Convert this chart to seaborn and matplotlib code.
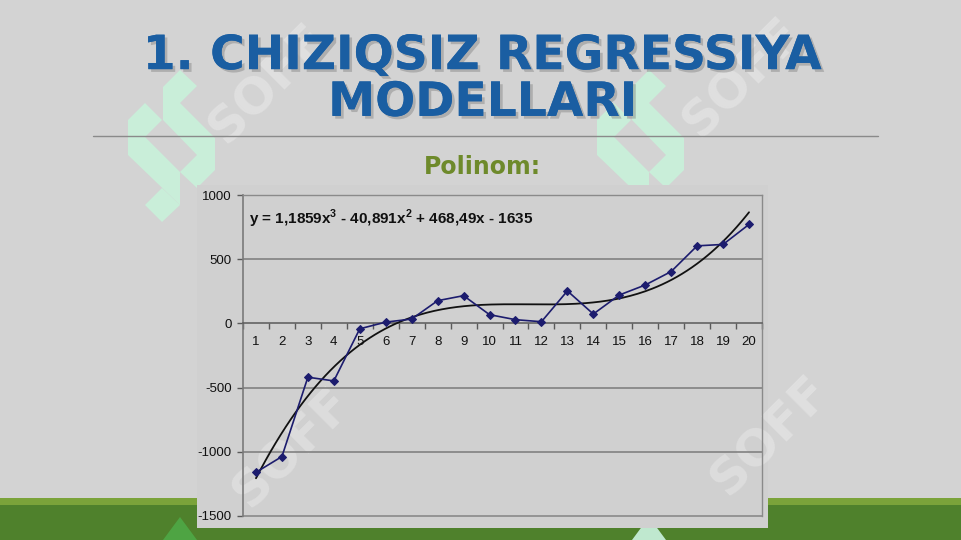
import numpy as np
import pandas as pd
import matplotlib
matplotlib.use("Agg")
import matplotlib.pyplot as plt
import matplotlib.patheffects as pe
from matplotlib.patches import Rectangle, Polygon
import seaborn as sns

# ---- data ----
x_vals = list(range(1, 21))
y_vals = [-1160, -1037, -419, -448, -42, 10, 34, 177, 216, 68,
          29, 13, 253, 73, 221, 299, 404, 604, 615, 771]
coef = [1.1859, -40.891, 468.49, -1635]          # cubic trend, from equation text
y_ticks = [-1500, -1000, -500, 0, 500, 1000]
title_text = "1. CHIZIQSIZ REGRESSIYA\nMODELLARI"
subtitle_text = "Polinom:"
equation_text = r"y = 1,1859x$^{3}$ - 40,891x$^{2}$ + 468,49x - 1635"
watermark_text = "SOFF"

sns.set_theme(style="white")
plt.rcParams['font.family'] = ['DejaVu Sans']
plt.rcParams['mathtext.fontset'] = 'custom'
plt.rcParams['mathtext.rm'] = 'Liberation Sans:bold'
plt.rcParams['mathtext.bf'] = 'Liberation Sans:bold'

W, H = 961, 540
BG = "#d3d3d3"
fig = plt.figure(figsize=(W / 100, H / 100), dpi=100, facecolor=BG)

def fx(px):
    return px / W

def fy(py):
    return 1 - py / H

def fpoly(pts, color, z=0.5, dx=0):
    fig.patches.append(Polygon([(fx(a + dx), fy(b)) for a, b in pts], closed=True,
                               transform=fig.transFigure, facecolor=color,
                               edgecolor="none", zorder=z))

# bottom green band
fig.patches.append(Rectangle((0, 0), 1, fy(498), transform=fig.transFigure,
                             facecolor="#7ba33a", edgecolor="none", zorder=0))
fig.patches.append(Rectangle((0, 0), 1, fy(505), transform=fig.transFigure,
                             facecolor="#4f812c", edgecolor="none", zorder=0))

# mint decorative shapes (watermark)
mint = "#c9eed9"
shape_polys = [
    [(128, 120), (145, 103), (162, 120), (145, 137), (180, 172), (180, 205), (128, 155)],
    [(145, 205), (162, 188), (180, 205), (162, 222)],
    [(163, 87), (180, 70), (197, 86), (180, 103), (215, 138), (215, 170), (197, 188),
     (180, 172), (197, 155), (163, 120)],
]
for dx in (0, 469):
    for p in shape_polys:
        fpoly(p, mint, dx=dx)
# bottom small triangles
fpoly([(163, 540), (180, 517), (197, 540)], "#4ea443", z=0.5)
fpoly([(632, 540), (649, 517), (666, 540)], "#bfe8cf", z=0.5)

# SOFF watermark text (faint)
for (px, py, z) in [(268, 84, 0.6), (742, 78, 0.6), (292, 448, 1.5), (770, 436, 1.5)]:
    fig.text(fx(px), fy(py), watermark_text, fontsize=36, fontweight="bold", color="white",
             alpha=0.28, rotation=45, ha="center", va="center", zorder=z)

# title
fig.text(fx(483), fy(80), title_text, ha="center", va="center", fontsize=34,
         fontweight="bold", color="#1a5ea2", linespacing=1.05, zorder=3,
         path_effects=[pe.withSimplePatchShadow(offset=(2, -2), shadow_rgbFace="#777777", alpha=0.4),
                       pe.Normal()])
# separator line
fig.add_artist(plt.Line2D([fx(93), fx(878)], [fy(136), fy(136)], transform=fig.transFigure,
                          color="#8a8a8a", lw=1.0, zorder=3))
fig.text(fx(482), fy(167), subtitle_text, ha="center", va="center", fontsize=17,
         fontweight="bold", color="#6e8a2b", zorder=3)

# chart box
fig.patches.append(Rectangle((fx(197), fy(528)), fx(768) - fx(197), fy(185) - fy(528),
                             transform=fig.transFigure, facecolor="#d0d0d0",
                             edgecolor="none", zorder=1))

# axes
ax = fig.add_axes([fx(243), fy(516), fx(762) - fx(243), fy(195) - fy(516)])
ax.set_zorder(2)
ax.patch.set_alpha(0)

df = pd.DataFrame({"x": x_vals, "y": y_vals})
xs = np.array(x_vals, dtype=float)
xx = np.linspace(xs.min(), xs.max(), 200)
tdf = pd.DataFrame({"x": xx, "y": np.polyval(coef, xx)})

for yv in [-1000, -500, 500]:
    ax.axhline(yv, color="#7a7a7a", lw=1.1, zorder=1)

sns.lineplot(data=df, x="x", y="y", ax=ax, color="#1c1c6e", lw=1.2, marker="D",
             markersize=4, markeredgecolor="#1c1c6e", zorder=4)
sns.lineplot(data=tdf, x="x", y="y", ax=ax, color="#111111", lw=1.3, zorder=3)

ax.set_xlim(0.5, 20.5)
ax.set_ylim(-1500, 1000)
ax.set_xlabel("")
ax.set_ylabel("")

for s in ["top", "right"]:
    ax.spines[s].set_visible(True)
    ax.spines[s].set_color("#8a8a8a")
    ax.spines[s].set_linewidth(1.0)
ax.spines["left"].set_color("#7a7a7a")
ax.spines["left"].set_linewidth(1.2)
ax.spines["bottom"].set_position(("data", 0))
ax.spines["bottom"].set_color("#5a5a5a")
ax.spines["bottom"].set_linewidth(1.1)
ax.axhline(-1500, color="#8a8a8a", lw=1.2, zorder=1, clip_on=False)

ax.set_yticks(y_ticks)
ax.set_yticklabels([str(v) for v in y_ticks], family="Liberation Sans", fontsize=9.5)
ax.tick_params(axis="y", direction="out", length=4, width=1, color="#5a5a5a", pad=4,
               left=True, labelcolor="#111111")

ax.set_xticks(np.arange(0.5, 21, 1.0))
ax.set_xticklabels([])
ax.tick_params(axis="x", which="major", direction="out", length=4, width=1,
               color="#5a5a5a", bottom=True)
ax.set_xticks(x_vals, minor=True)
ax.set_xticklabels([str(v) for v in x_vals], minor=True, family="Liberation Sans",
                   fontsize=9.5)
ax.tick_params(axis="x", which="minor", length=0, pad=9, labelcolor="#111111")

ax.text(0.012, 0.925, equation_text, transform=ax.transAxes, fontsize=11,
        fontweight="bold", family="Liberation Sans", color="#111111", va="center")

fig.savefig("out.png", dpi=100, facecolor=BG)
